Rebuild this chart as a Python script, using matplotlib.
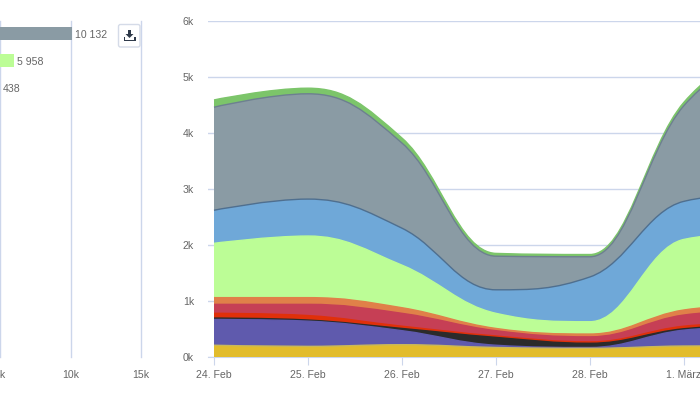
import matplotlib
matplotlib.use('Agg')
import matplotlib.pyplot as plt
import numpy as np
from matplotlib.path import Path
from matplotlib.patches import PathPatch, FancyBboxPatch, Polygon

plt.rcParams['font.family'] = ['Liberation Sans', 'DejaVu Sans']

W, H = 700, 394
GRID = '#ccd6eb'
TXT = '#666666'
FS = 7.6

# left bar chart
bar_values = [10132, 5958, 438]
bar_labels = ['10 132', '5 958', '438']
bar_colors = ['#8a9ba4', '#bcfd96', '#7cc56a']
bar_ticks = [5000, 10000, 15000]
bar_tick_labels = ['5k', '10k', '15k']

# stacked area, values per day, last one is off the picture
days = ['24. Feb', '25. Feb', '26. Feb', '27. Feb', '28. Feb', '1. März']
yellow = [210, 190, 220, 170, 155, 196, 200]
purple = [460, 450, 250, 40, 15, 284, 350]
black = [25, 20, 40, 140, 75, 25, 20]
red = [85, 80, 40, 25, 25, 45, 50]
crimson = [160, 200, 230, 95, 90, 200, 220]
orange = [120, 120, 100, 40, 50, 90, 100]
lightgreen = [970, 1100, 760, 270, 220, 1260, 1300]
blue = [590, 660, 660, 420, 800, 680, 700]
grey = [1840, 1880, 1520, 600, 360, 1710, 2700]
green = [130, 100, 90, 50, 40, 60, 80]

series = [yellow, purple, black, red, crimson, orange, lightgreen, blue, grey, green]
fills = ['#e2bc2c', '#5f5aad', '#2b2b2b', '#e0300a', '#c63f55', '#e08049',
         '#bcfd96', '#6fa8d8', '#8a9ba4', '#7cc56a']
edges = ['#c9b85a', '#5f5aad', '#2b2b2b', '#e0300a', '#c63f55', '#e08049',
         '#bcfd96', '#4f6f8f', '#6d8090', '#7cc56a']
y_ticks = [0, 1000, 2000, 3000, 4000, 5000, 6000]
y_tick_labels = ['0k', '1k', '2k', '3k', '4k', '5k', '6k']


def spline_path(y, smoothing=1.5):
    # same control points as a highcharts spline
    n = len(y)
    x = np.arange(n)
    verts = [(x[0], y[0])]
    codes = [Path.MOVETO]
    right = (x[0], y[0])
    for i in range(1, n):
        if i < n - 1:
            lc_x = (smoothing * x[i] + x[i - 1]) / (smoothing + 1)
            lc_y = (smoothing * y[i] + y[i - 1]) / (smoothing + 1)
            rc_x = (smoothing * x[i] + x[i + 1]) / (smoothing + 1)
            rc_y = (smoothing * y[i] + y[i + 1]) / (smoothing + 1)
            corr = (rc_y - lc_y) * (rc_x - x[i]) / (rc_x - lc_x) + y[i] - rc_y
            lc_y += corr
            rc_y += corr
            if lc_y > y[i - 1] and lc_y > y[i]:
                lc_y = max(y[i - 1], y[i])
                rc_y = 2 * y[i] - lc_y
            elif lc_y < y[i - 1] and lc_y < y[i]:
                lc_y = min(y[i - 1], y[i])
                rc_y = 2 * y[i] - lc_y
            if rc_y > y[i + 1] and rc_y > y[i]:
                rc_y = max(y[i + 1], y[i])
                lc_y = 2 * y[i] - rc_y
            elif rc_y < y[i + 1] and rc_y < y[i]:
                rc_y = min(y[i + 1], y[i])
                lc_y = 2 * y[i] - rc_y
        else:
            lc_x, lc_y = x[i], y[i]
            rc_x, rc_y = x[i], y[i]
        verts += [right, (lc_x, lc_y), (x[i], y[i])]
        codes += [Path.CURVE4] * 3
        right = (rc_x, rc_y)
    return verts, codes


fig = plt.figure(figsize=(W / 100, H / 100), dpi=100)
top, bottom = 21, 357

# bar chart, its zero is off the left edge
ax1 = fig.add_axes([-70.5 / W, (H - bottom) / H, 211.5 / W, (bottom - top) / H])
ax1.set_xlim(0, 15000)
ax1.set_ylim(336, 0)
ax1.patch.set_visible(False)
for s in ax1.spines.values():
    s.set_visible(False)
ax1.set_xticks(bar_ticks)
ax1.set_xticklabels(bar_tick_labels, fontsize=FS, color=TXT)
ax1.tick_params(axis='x', length=0, pad=9)
ax1.set_yticks([])
ax1.grid(axis='x', color=GRID, lw=1)
for gl in ax1.get_xgridlines():
    gl.set_clip_on(False)
ax1.set_axisbelow(True)
bar_y = [12, 39, 66]
ax1.barh(bar_y, bar_values, height=13, color=bar_colors)
for v, yy, lab in zip(bar_values, bar_y, bar_labels):
    ax1.text(max(v, 5000) + 220, yy + 2, lab, fontsize=FS, color=TXT, va='center', ha='left')

# stacked areas
ax = fig.add_axes([208 / W, (H - bottom) / H, 492 / W, (bottom - top) / H])
ax.set_xlim(-6 / 94, 486 / 94)
ax.set_ylim(0, 6000)
ax.patch.set_visible(False)
for k, s in ax.spines.items():
    s.set_visible(k == 'bottom')
    s.set_color(GRID)
ax.set_xticks(range(len(days)))
ax.set_xticklabels(days, fontsize=FS, color=TXT)
ax.tick_params(axis='x', length=6, color=GRID, pad=3)
ax.set_yticks(y_ticks)
ax.set_yticklabels(y_tick_labels, fontsize=FS, color=TXT)
ax.tick_params(axis='y', length=0, pad=10)
ax.grid(axis='y', color=GRID, lw=1)
ax.set_axisbelow(True)

cum = np.cumsum(np.array(series, dtype=float), axis=0)
last = cum.shape[1] - 1
for i in range(len(series) - 1, -1, -1):
    verts, codes = spline_path(cum[i])
    area_v = verts + [(last, 0), (0, 0), verts[0]]
    area_c = codes + [Path.LINETO, Path.LINETO, Path.CLOSEPOLY]
    ax.add_patch(PathPatch(Path(area_v, area_c), fc=fills[i], ec='none', zorder=3))
    ax.add_patch(PathPatch(Path(verts, codes), fc='none', ec=edges[i], lw=1, zorder=3))

# download button
ov = fig.add_axes([0, 0, 1, 1])
ov.set_xlim(0, W)
ov.set_ylim(H, 0)
ov.axis('off')
ov.patch.set_visible(False)
ov.add_patch(FancyBboxPatch((118.5, 24.5), 21.5, 22.5, boxstyle='round,pad=0,rounding_size=2',
                            fc='white', ec='#d5dbe8', lw=1))
ink = '#2f3a4a'
ov.add_patch(Polygon([(128, 30), (131, 30), (131, 34), (133.5, 34), (129.5, 38), (125.5, 34), (128, 34)],
                     fc=ink, ec='none'))
ov.add_patch(Polygon([(123.5, 37), (125, 37), (125, 39.5), (134, 39.5), (134, 37), (135.5, 37),
                      (135.5, 41), (123.5, 41)], fc=ink, ec='none'))

fig.savefig('out.png', dpi=100)
